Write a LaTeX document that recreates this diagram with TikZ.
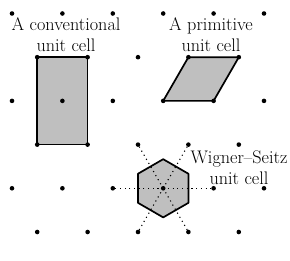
\documentclass[tikz,border=0pt]{standalone}
\begin{document}
\begin{tikzpicture}[x=1pt,y=-1pt,
  lat/.style={circle,fill=black,inner sep=0pt,minimum size=4.6pt},
  cellfill/.style={fill=black!25,draw=black,line width=1.7pt,line join=round},
  ray/.style={line width=1.1pt,dash pattern=on 1.1pt off 3.6pt},
  lbl/.style={font=\fontsize{18.2}{20.5}\selectfont,align=center,inner sep=0pt,anchor=north}]
\useasboundingbox (0,0) rectangle (290,261);
% lattice coordinates
\foreach \r in {0,2,4} {
  \foreach \c in {0,...,5} {
    \coordinate (p\r\c) at ({12+\c*50.4},{13.5+\r*43.7});
  }
}
\foreach \r in {1,3,5} {
  \foreach \c in {0,...,4} {
    \coordinate (p\r\c) at ({37.2+\c*50.4},{13.5+\r*43.7});
  }
}
% conventional cell
\draw[cellfill] (p10) rectangle (p31);
% primitive cell
\draw[cellfill] (p23) -- (p24) -- (p14) -- (p13) -- cycle;
% Wigner-Seitz cell
\draw[cellfill] ([shift={(p43)}]90:29.1) -- ([shift={(p43)}]150:29.1) -- ([shift={(p43)}]210:29.1)
  -- ([shift={(p43)}]270:29.1) -- ([shift={(p43)}]330:29.1) -- ([shift={(p43)}]30:29.1) -- cycle;
% lattice points
\foreach \r in {0,2,4} {
  \foreach \c in {0,...,5} {
    \node[lat] (n\r\c) at (p\r\c) {};
  }
}
\foreach \r in {1,3,5} {
  \foreach \c in {0,...,4} {
    \node[lat] (n\r\c) at (p\r\c) {};
  }
}
% rays to nearest neighbours
\foreach \t in {n42,n44,n32,n33,n52,n53} {
  \draw[ray] (n43.center) -- (\t.center);
}
% labels
\node[lbl] (conv) at (66,17.6) {A conventional\\unit cell};
\node[lbl] (prim) at (211,17.8) {A primitive\\unit cell};
\node[lbl] (ws) at (239,150.6) {Wigner--Seitz\\unit cell};
\end{tikzpicture}
\end{document}
